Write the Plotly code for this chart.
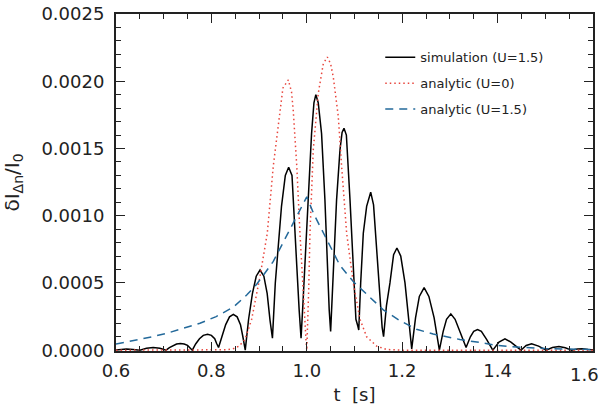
import plotly.graph_objects as go

# ---- data ----
sim_t = [0.600, 0.611, 0.622, 0.636, 0.650, 0.664, 0.678, 0.692, 0.705,
         0.712, 0.720, 0.727, 0.735, 0.743, 0.750, 0.755, 0.760,
         0.767, 0.775, 0.783, 0.792, 0.800, 0.807, 0.811, 0.815,
         0.822, 0.830, 0.838, 0.846, 0.854, 0.861, 0.866, 0.871,
         0.878, 0.886, 0.894, 0.902, 0.910, 0.917, 0.923, 0.926, 0.928,
         0.934, 0.937, 0.947, 0.955, 0.962, 0.969, 0.972, 0.979, 0.984, 0.988,
         0.992, 0.996, 1.003, 1.010, 1.015, 1.019, 1.024, 1.031, 1.038, 1.043, 1.047, 1.050,
         1.055, 1.0625, 1.0696, 1.074, 1.078, 1.083, 1.0906, 1.0975, 1.103, 1.107, 1.109,
         1.113, 1.1185, 1.1255, 1.134, 1.140, 1.1465, 1.1535, 1.158, 1.161,
         1.167, 1.1744, 1.182, 1.189, 1.197, 1.2059, 1.213, 1.220,
         1.228, 1.236, 1.246, 1.256, 1.267, 1.278,
         1.286, 1.293, 1.302, 1.311, 1.322, 1.334,
         1.343, 1.350, 1.358, 1.366, 1.377, 1.390,
         1.403, 1.4155, 1.428, 1.449,
         1.460, 1.4714, 1.486, 1.502,
         1.515, 1.5287, 1.542, 1.555,
         1.567, 1.578, 1.590, 1.600]
sim_v = [0.000002, 0.000006, 0.000008, 0.000006, 0.0, 0.000014, 0.00002, 0.000014, 0.0,
         0.000019, 0.000036, 0.000046, 0.00005, 0.000046, 0.000036, 0.00002, 0.0,
         0.000046, 0.000085, 0.00011, 0.000119, 0.00011, 0.000085, 0.00005, 0.00002,
         0.0001, 0.00019, 0.000248, 0.000267, 0.000248, 0.00019, 0.0001, 0.0,
         0.00023, 0.00042, 0.00055, 0.000596, 0.00055, 0.00042, 0.00022, 0.00015, 0.00009,
         0.0005, 0.00063, 0.00107, 0.0013, 0.00136, 0.0013, 0.00107, 0.00063, 0.0003, 0.00009,
         0.00035, 0.00063, 0.00112, 0.00161, 0.00184, 0.0019, 0.00184, 0.00161, 0.00112, 0.00063, 0.0003, 0.00014,
         0.0005, 0.00112, 0.00149, 0.00162, 0.00165, 0.0016, 0.00112, 0.00063, 0.00023, 0.00018, 0.00015,
         0.0005, 0.00087, 0.00107, 0.001175, 0.00108, 0.00075, 0.00038, 0.00017, 0.0001,
         0.00033, 0.0005, 0.00071, 0.00076, 0.0007, 0.0005, 0.00025, 0.00001,
         0.00024, 0.0004, 0.000465, 0.0004, 0.00024, 0.0,
         0.00014, 0.00023, 0.00027, 0.00023, 0.00013, 0.00002,
         0.0001, 0.00014, 0.000153, 0.00014, 0.00008, 0.0,
         0.00006, 0.000085, 0.00006, 0.0,
         0.000035, 0.000048, 0.00003, 0.0,
         0.00002, 0.000027, 0.000018, 0.0,
         0.000008, 0.00001, 0.000006, 0.000004]

u0_t = [0.600, 0.800, 0.830, 0.845, 0.858, 0.8704, 0.8845, 0.902, 0.9172, 0.9298,
        0.9403, 0.950, 0.9613, 0.968, 0.9717, 0.979, 0.9857, 0.9926, 0.9983, 1.000,
        1.0017, 1.004, 1.0067, 1.0136, 1.0241, 1.0346, 1.0431, 1.050, 1.0556, 1.066,
        1.073, 1.0836, 1.0975, 1.1115, 1.1255, 1.1465, 1.1675, 1.200, 1.600]
u0_v = [0.0, 0.0, 0.000003, 0.00001, 0.00003, 0.00008, 0.00023, 0.00055, 0.00087, 0.00137,
        0.00166, 0.00195, 0.00201, 0.00192, 0.00178, 0.00137, 0.00087, 0.00038, 0.00008, 0.0,
        0.00015, 0.00045, 0.00087, 0.00149, 0.00191, 0.00213, 0.00218, 0.00213, 0.00203, 0.00174,
        0.00137, 0.00087, 0.0005, 0.00023, 0.0001, 0.00003, 0.000005, 0.0, 0.0]

u15_t = [0.600, 0.636, 0.676, 0.706, 0.740, 0.776, 0.810, 0.846, 0.874, 0.895,
         0.9298, 0.9648, 0.985, 1.000, 1.015, 1.0348, 1.0696, 1.0975, 1.1325, 1.1604,
         1.195, 1.230, 1.265, 1.300, 1.321, 1.363, 1.391, 1.430, 1.461, 1.500, 1.550, 1.600]
u15_v = [0.000045, 0.00007, 0.0001, 0.000125, 0.00016, 0.0002, 0.00025, 0.00032, 0.00041, 0.00049,
         0.00066, 0.0009, 0.00104, 0.00114, 0.00101, 0.00087, 0.00063, 0.00051, 0.00039, 0.0003,
         0.00022, 0.000156, 0.00012, 0.000094, 0.00008, 0.000057, 0.00004, 0.000025, 0.000017, 0.000012, 0.000008, 0.000005]

x_ticks = [0.6, 0.8, 1.0, 1.2, 1.4, 1.6]
x_labels = ["0.6", "0.8", "1.0", "1.2", "1.4", "1.6"]
y_ticks = [0.0, 0.0005, 0.0010, 0.0015, 0.0020, 0.0025]
y_labels = ["0.0000", "0.0005", "0.0010", "0.0015", "0.0020", "0.0025"]

names = ["simulation (U=1.5)", "analytic (U=0)", "analytic (U=1.5)"]

FONT = "DejaVu Sans"
INK = "#222222"

fig = go.Figure()
fig.add_trace(go.Scatter(x=sim_t, y=sim_v, mode="lines", name=names[0], legendgroup="a",
                         line=dict(color="black", width=1.5)))
fig.add_trace(go.Scatter(x=u0_t, y=u0_v, mode="lines", name=names[1], legendgroup="b",
                         line=dict(color="#e8453c", width=1.5, dash="1.5px,3px")))
fig.add_trace(go.Scatter(x=u15_t, y=u15_v, mode="lines", name=names[2], legendgroup="c",
                         line=dict(color="#23699a", width=1.5, dash="8px,6px")))

axis_common = dict(
    showgrid=False, zeroline=False, showline=True, linecolor=INK, linewidth=2,
    mirror="allticks", ticks="inside", ticklen=9, tickwidth=1.2, tickcolor=INK,
    tickfont=dict(family=FONT, size=18, color=INK), automargin=False,
)

# last x tick label is drawn as an annotation, nudged left so it fits in the page
fig.update_xaxes(**axis_common, range=[0.6, 1.6001], tickvals=x_ticks,
                 ticktext=x_labels[:-1] + [""], ticklabelstandoff=2,
                 minor=dict(dtick=0.05, ticks="inside", ticklen=5, tickcolor=INK),
                 title=dict(text="t  [s]", font=dict(family=FONT, size=18, color=INK), standoff=9))
fig.update_yaxes(**axis_common, range=[-0.000006, 0.0025], tickvals=y_ticks, ticktext=y_labels,
                 ticklabelstandoff=6,
                 minor=dict(dtick=0.0001, ticks="inside", ticklen=5, tickcolor=INK),
                 title=dict(text="δI<sub>Δn</sub>/I<sub>0</sub>",
                            font=dict(family=FONT, size=20, color=INK), standoff=22))

fig.add_annotation(x=x_ticks[-1], xref="x", y=0, yref="paper", text=x_labels[-1],
                   showarrow=False, xanchor="center", yanchor="top", xshift=-8, yshift=-11,
                   font=dict(family=FONT, size=18, color=INK))

fig.update_layout(
    width=610, height=411,
    margin=dict(l=116, r=17, t=14, b=60),
    paper_bgcolor="white", plot_bgcolor="white",
    legend=dict(x=0.554, y=0.916, xanchor="left", yanchor="top",
                font=dict(family=FONT, size=13, color=INK),
                bgcolor="rgba(0,0,0,0)", borderwidth=0,
                traceorder="grouped", tracegroupgap=6),
)

fig.write_html("out.html", config={"displayModeBar": False},
               post_script="document.body.style.margin='0';")
